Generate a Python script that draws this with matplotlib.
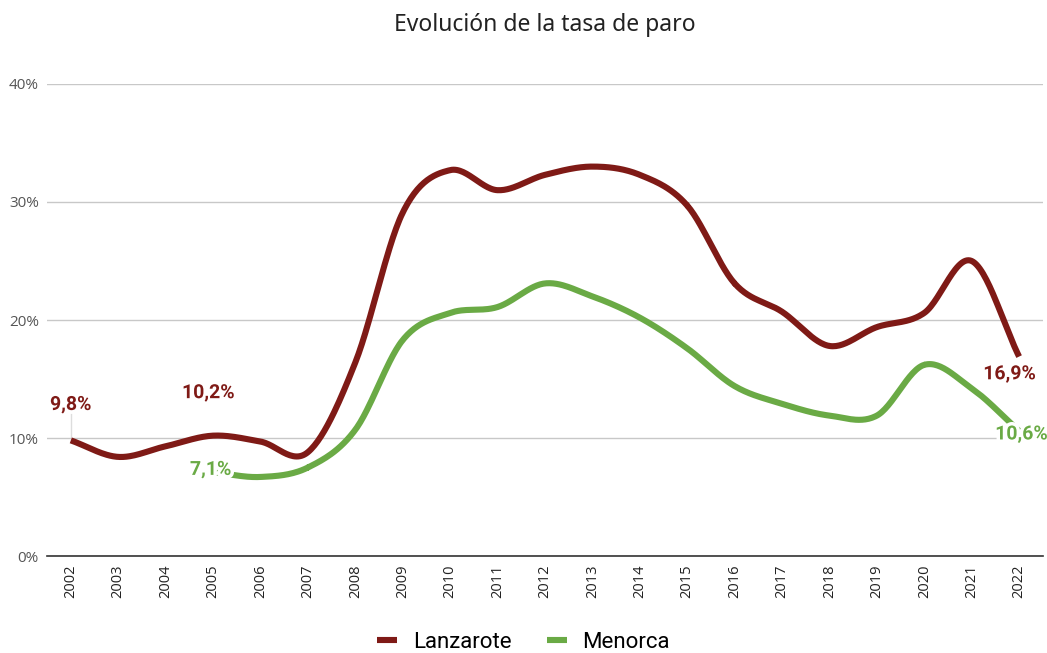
import numpy as np
import matplotlib.pyplot as plt
import matplotlib.patheffects as pe

years = [str(y) for y in range(2002, 2023)]
lanzarote = [9.8, 8.4, 9.3, 10.2, 9.7, 8.8, 16.4, 29.1, 32.7, 31.0, 32.3, 33.0,
             32.3, 29.7, 23.1, 20.7, 17.8, 19.4, 20.6, 25.0, 16.9]
# Menorca empieza en 2005
menorca_years = years[3:]
menorca = [7.1, 6.7, 7.5, 10.7, 18.3, 20.6, 21.1, 23.1, 22.0, 20.2, 17.6, 14.4,
           12.9, 11.9, 11.9, 16.2, 14.2, 10.6]

red = "#7f1a16"
green = "#6aaa45"


def smooth(x, y, n=30):
    # curva Catmull-Rom para suavizar la linea
    x = np.asarray(x, float)
    y = np.asarray(y, float)
    px = np.concatenate([[2 * x[0] - x[1]], x, [2 * x[-1] - x[-2]]])
    py = np.concatenate([[2 * y[0] - y[1]], y, [2 * y[-1] - y[-2]]])
    xs, ys = [], []
    t = np.linspace(0, 1, n)
    for i in range(1, len(px) - 2):
        for p, out in ((px, xs), (py, ys)):
            p0, p1, p2, p3 = p[i - 1], p[i], p[i + 1], p[i + 2]
            out.extend(0.5 * ((2 * p1) + (-p0 + p2) * t
                              + (2 * p0 - 5 * p1 + 4 * p2 - p3) * t ** 2
                              + (-p0 + 3 * p1 - 3 * p2 + p3) * t ** 3))
    return np.array(xs), np.array(ys)


fig = plt.figure(figsize=(10.47, 6.53), dpi=100)
ax = fig.add_axes([0.045, 0.1485, 0.951, 0.7229])

xl = np.arange(len(years))
xm = np.arange(3, len(years))
sx, sy = smooth(xl, lanzarote)
ax.plot(sx, sy, color=red, lw=4.4, solid_capstyle="butt", label="Lanzarote")
sx, sy = smooth(xm, menorca)
ax.plot(sx, sy, color=green, lw=4.4, solid_capstyle="butt", label="Menorca")

ax.set_xlim(-0.5, len(years) - 0.5)
ax.set_ylim(0, 40)
ax.set_yticks([0, 10, 20, 30, 40])
ax.set_yticklabels(["0%", "10%", "20%", "30%", "40%"], fontsize=11,
                   color="#555555", family="Open Sans")
ax.set_xticks(xl)
ax.set_xticklabels(years, rotation=90, fontsize=10.5, color="#222222",
                   family="Open Sans")
ax.tick_params(length=0, pad=6)
ax.grid(axis="y", color="#c8c8c8", lw=1)
ax.set_axisbelow(True)
for s in ["top", "right", "left"]:
    ax.spines[s].set_visible(False)
ax.spines["bottom"].set_color("#333333")
ax.spines["bottom"].set_linewidth(1.2)

# etiquetas de valores
halo = [pe.withStroke(linewidth=5, foreground="white")]
lab = dict(fontsize=14, fontweight="bold", family="Roboto", ha="center",
           va="center", path_effects=halo, zorder=5)
ax.plot([0, 0], [lanzarote[0], 12.0], color="#dddddd", lw=1, zorder=1)
ax.text(0, 12.8, "9,8%", color=red, **lab)
ax.text(2.9, 13.8, "10,2%", color=red, **lab)
ax.text(2.95, 7.3, "7,1%", color=green, **lab)
ax.text(19.8, 15.4, "16,9%", color=red, **lab)
ax.text(20.05, 10.3, "10,6%", color=green, **lab)

ax.set_title("Evolución de la tasa de paro", fontsize=16.5, family="Noto Sans",
             color="#222222", pad=38)
fig.legend(loc="lower center", ncol=2, frameon=False, bbox_to_anchor=(0.5, -0.03),
           prop={"family": "Roboto", "size": 16}, handlelength=0.9,
           columnspacing=1.6, handletextpad=0.7)

fig.savefig("out.png", dpi=100)
